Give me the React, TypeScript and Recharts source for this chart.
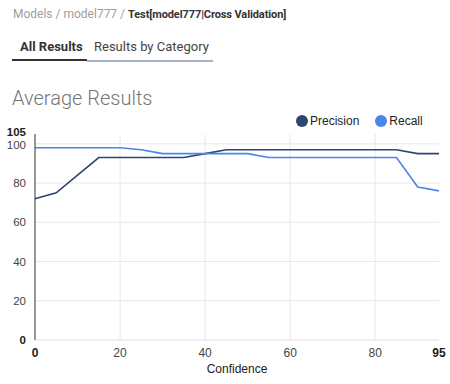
import React from 'react';
import { LineChart, Line, XAxis, YAxis, CartesianGrid } from 'recharts';

const confidence = [0, 5, 10, 15, 20, 25, 30, 35, 40, 45, 50, 55, 60, 65, 70, 75, 80, 85, 90, 95];
const precision = [72, 75, 84, 93, 93, 93, 93, 93, 95, 97, 97, 97, 97, 97, 97, 97, 97, 97, 95, 95];
const recall = [98, 98, 98, 98, 98, 97, 95, 95, 95, 95, 95, 93, 93, 93, 93, 93, 93, 93, 78, 76];
const seriesNames = ['Precision', 'Recall'];
const xTicks = [0, 20, 40, 60, 80, 95];
const yTicks = [0, 20, 40, 60, 80, 100, 105];
const gridY = [20, 40, 60, 80, 100];
const gridX = [20, 40, 60, 80];

const data = confidence.map((c, i) => ({ c, Precision: precision[i], Recall: recall[i] }));

const PREC = '#2c4672';
const REC = '#4a86e8';
const colors = [PREC, REC];

const XTick = (props: any) => {
  const { x, y, payload } = props;
  const v = payload.value;
  const bold = v === 0 || v === 95;
  return (
    <text x={x} y={y} dy={9} textAnchor="middle" fontFamily="Liberation Sans, Arial" fontSize={12}
      fontWeight={bold ? 'bold' : 'normal'} fill={bold ? '#222' : '#444'}>
      {v}
    </text>
  );
};

const YTick = (props: any) => {
  const { x, y, payload } = props;
  const v = payload.value;
  const bold = v === 0 || v === 105;
  const dy = v === 105 ? 2 : v === 100 ? 5 : 4;
  return (
    <text x={x} y={y} dy={dy} textAnchor="end" fontFamily="Liberation Sans, Arial" fontSize={11.5}
      fontWeight={bold ? 'bold' : 'normal'} fill={bold ? '#222' : '#444'}>
      {v}
    </text>
  );
};

export default function App() {
  return (
    <div style={{ position: 'absolute', left: 0, top: 0, width: 450, height: 384, background: '#fff', fontFamily: 'Roboto, sans-serif' }}>
      <div style={{ position: 'absolute', left: 13, top: 7, fontSize: 12, color: '#9e9e9e', whiteSpace: 'nowrap' }}>
        Models / model777 / <span style={{ color: '#333', fontWeight: 'bold', fontSize: 11, letterSpacing: -0.1 }}>Test[model777|Cross Validation]</span>
      </div>
      <div style={{ position: 'absolute', left: 20, top: 39, fontSize: 13, color: '#333', fontWeight: 'bold', whiteSpace: 'nowrap' }}>All Results</div>
      <div style={{ position: 'absolute', left: 94, top: 39, fontSize: 13, color: '#444', whiteSpace: 'nowrap' }}>Results by Category</div>
      <div style={{ position: 'absolute', left: 12, top: 59, width: 75, height: 2, background: '#333' }} />
      <div style={{ position: 'absolute', left: 87, top: 60, width: 126, height: 1.5, background: '#a9b3c6' }} />
      <div style={{ position: 'absolute', left: 12, top: 86, fontSize: 20, fontWeight: 300, color: '#757575', whiteSpace: 'nowrap' }}>Average Results</div>
      <div style={{ position: 'absolute', left: 296, top: 114, display: 'flex', fontFamily: 'Liberation Sans, Arial', fontSize: 12, color: '#222' }}>
        {seriesNames.map((n, i) => (
          <div key={n} style={{ display: 'flex', alignItems: 'center', marginRight: i === 0 ? 16 : 0 }}>
            <span style={{ display: 'inline-block', width: 12, height: 12, borderRadius: 6, background: colors[i], marginRight: 2 }} />
            <span>{n}</span>
          </div>
        ))}
      </div>
      <div style={{ position: 'absolute', left: 0, top: 110 }}>
        <LineChart width={450} height={274} data={data} margin={{ top: 24, right: 11, bottom: 0, left: 0 }}>
          <CartesianGrid stroke="#e8e8e8" horizontalValues={gridY} verticalValues={gridX} />
          <XAxis dataKey="c" type="number" domain={[0, 95]} ticks={xTicks} tick={<XTick />} tickLine={false}
            axisLine={{ stroke: '#e0e0e0' }} height={44} interval={0}
            label={{ value: 'Confidence', position: 'insideBottom', offset: 11, fill: '#222', fontSize: 12, fontFamily: 'Liberation Sans, Arial' }} />
          <YAxis type="number" domain={[0, 105]} ticks={yTicks} tick={<YTick />} tickLine={false}
            axisLine={{ stroke: '#333' }} width={35} interval={0} tickMargin={3} />
          <Line type="linear" dataKey="Precision" stroke={PREC} strokeWidth={1.6} dot={false} isAnimationActive={false} />
          <Line type="linear" dataKey="Recall" stroke={REC} strokeWidth={1.6} dot={false} isAnimationActive={false} />
        </LineChart>
      </div>
    </div>
  );
}
